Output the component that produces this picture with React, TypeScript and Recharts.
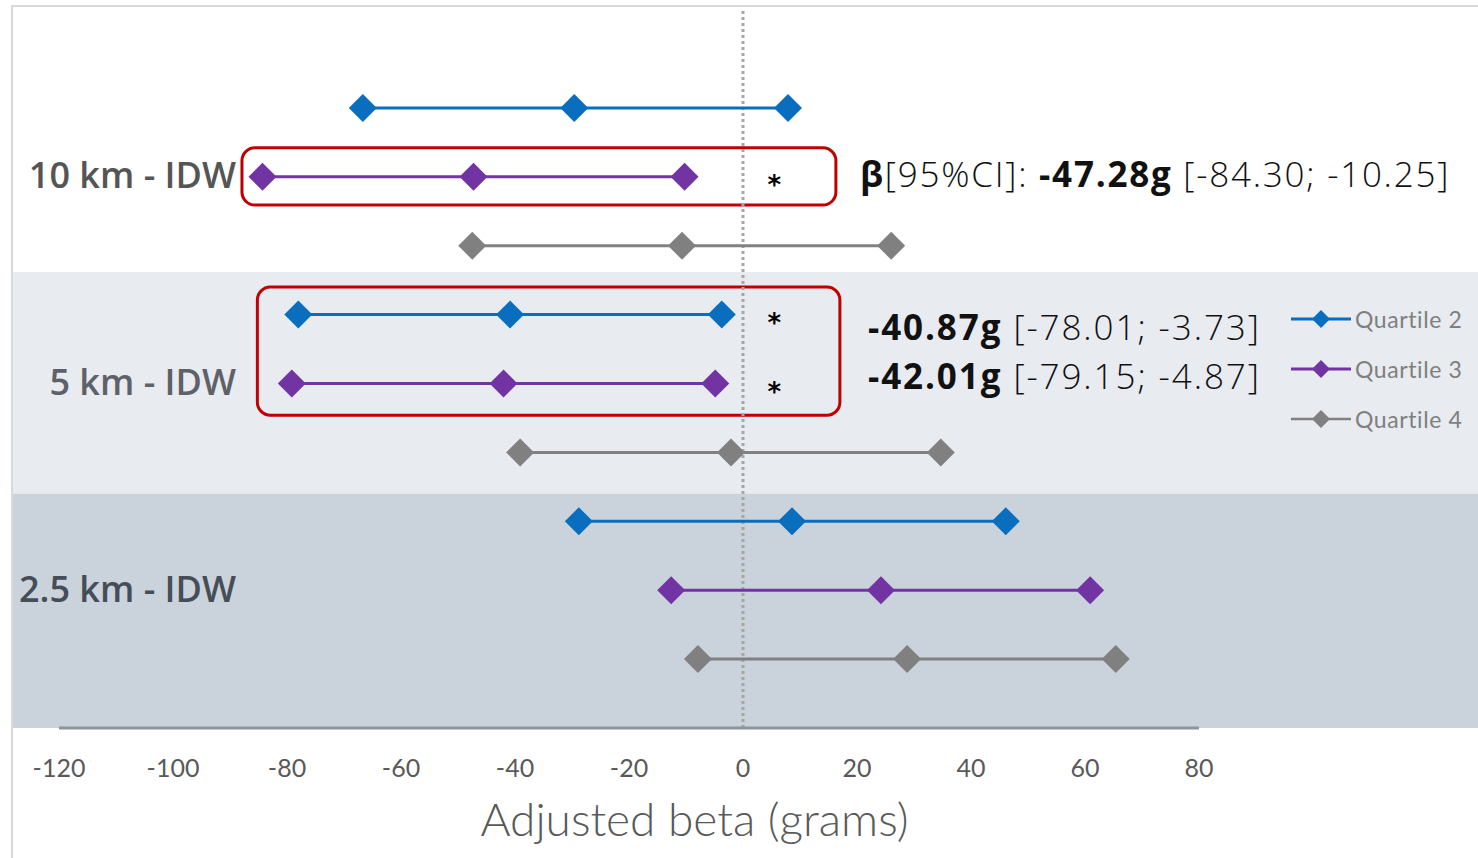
import React from "react";
import {
  ScatterChart,
  Scatter,
  XAxis,
  YAxis,
  ReferenceArea,
  ReferenceLine,
  ReferenceDot,
} from "recharts";

// Exposure buffers, top to bottom
const distances = ["10 km - IDW", "5 km - IDW", "2.5 km - IDW"];
const distanceColors = ["#555555", "#5E6268", "#454D57"];
const quartiles = ["Quartile 2", "Quartile 3", "Quartile 4"];
const quartileColors = ["#0A6EBF", "#7334A3", "#808080"];

// Adjusted beta (grams) and 95% CI, one value per buffer (10 km, 5 km, 2.5 km)
const q2Est = [-29.6, -40.87, 8.6];
const q2Lo = [-66.7, -78.01, -28.8];
const q2Hi = [7.9, -3.73, 46.1];

const q3Est = [-47.28, -42.01, 24.2];
const q3Lo = [-84.3, -79.15, -12.6];
const q3Hi = [-10.25, -4.87, 60.9];

const q4Est = [-10.7, -2.1, 28.8];
const q4Lo = [-47.5, -39.1, -7.9];
const q4Hi = [26.0, 34.7, 65.4];

const xTicks = [-120, -100, -80, -60, -40, -20, 0, 20, 40, 60, 80];

const estimates = [q2Est, q3Est, q4Est];
const lowers = [q2Lo, q3Lo, q4Lo];
const uppers = [q2Hi, q3Hi, q4Hi];

// vertical slot of each (buffer, quartile) line: 9 at the top down to 1
const slot = (d: number, q: number) => 9 - (d * 3 + q);

type Row = { d: number; q: number; y: number; lo: number; est: number; hi: number };
const rows: Row[] = [];
distances.forEach((_, d) =>
  quartiles.forEach((__, q) =>
    rows.push({
      d,
      q,
      y: slot(d, q),
      lo: lowers[q][d],
      est: estimates[q][d],
      hi: uppers[q][d],
    })
  )
);

const isSignificant = (r: Row) => r.hi < 0 || r.lo > 0;

const X_DOMAIN: [number, number] = [-128.07, 128.95];
const Y_DOMAIN: [number, number] = [0, 10.45];
const STAR_X = 5.5;

const Diamond = (props: any) => {
  const { cx, cy, fill } = props;
  const h = 14;
  return (
    <path
      d={`M${cx},${cy - h} L${cx + h},${cy} L${cx},${cy + h} L${cx - h},${cy} Z`}
      fill={fill}
    />
  );
};

const RoundedBox = (props: any) => {
  const { x, y, width, height } = props;
  return (
    <rect
      x={x}
      y={y}
      width={width}
      height={height}
      rx={13}
      ry={13}
      fill="none"
      stroke="#C00000"
      strokeWidth={3}
    />
  );
};

// buffer name drawn to the left of its middle (Quartile 3) line
const categoryLabel = (d: number) => (p: any) => {
  const vb = p.viewBox;
  return (
    <text
      x={vb.x + 223}
      y={vb.y + vb.height / 2 - 2}
      textAnchor="end"
      dominantBaseline="central"
      fill={distanceColors[d]}
      fontFamily="'Open Sans', sans-serif"
      fontWeight={600}
      fontSize={36}
    >
      {distances[d]}
    </text>
  );
};

const fmt = (v: number) => v.toFixed(2);

const annLight: React.CSSProperties = { fontWeight: 300 };
const annBold: React.CSSProperties = { fontWeight: 700 };

export default function App() {
  const r10q3 = rows.find((r) => r.d === 0 && r.q === 1)!;
  const r5q2 = rows.find((r) => r.d === 1 && r.q === 0)!;
  const r5q3 = rows.find((r) => r.d === 1 && r.q === 1)!;

  return (
    <div
      style={{
        position: "absolute",
        left: 0,
        top: 0,
        width: 1478,
        height: 858,
        background: "#ffffff",
        overflow: "hidden",
      }}
    >
      <ScatterChart
        width={1478}
        height={858}
        margin={{ top: 8, right: 0, bottom: 30, left: 13 }}
      >
        <ReferenceArea
          x1={X_DOMAIN[0]}
          x2={X_DOMAIN[1]}
          y1={3.4}
          y2={6.62}
          fill="#E8EBF0"
          fillOpacity={1}
          stroke="none"
        />
        <ReferenceArea
          x1={X_DOMAIN[0]}
          x2={X_DOMAIN[1]}
          y1={0}
          y2={3.4}
          fill="#CAD2DC"
          fillOpacity={1}
          stroke="none"
        />
        <XAxis
          type="number"
          dataKey="x"
          domain={X_DOMAIN}
          ticks={xTicks}
          allowDataOverflow
          axisLine={false}
          tickLine={false}
          height={100}
          tickMargin={25}
          tick={{ fill: "#595959", fontSize: 25, fontFamily: "Lato, sans-serif" }}
          label={{
            content: (p: any) => {
              const vb = p.viewBox;
              return (
                <text
                  x={vb.x + vb.width / 2 - 51}
                  y={836}
                  textAnchor="middle"
                  fill="#595959"
                  fontFamily="Lato, sans-serif"
                  fontWeight={300}
                  fontSize={46}
                >
                  Adjusted beta (grams)
                </text>
              );
            },
          }}
        />
        <YAxis type="number" dataKey="y" domain={Y_DOMAIN} hide />
        <ReferenceLine
          x={0}
          stroke="#A6A6A6"
          strokeWidth={3}
          strokeDasharray="3 3"
        />
        <ReferenceLine
          segment={[
            { x: xTicks[0], y: 0 },
            { x: xTicks[xTicks.length - 1], y: 0 },
          ]}
          stroke="#8E949C"
          strokeWidth={3}
        />
        {distances.map((name, d) => (
          <ReferenceDot
            key={`cat-${name}`}
            x={X_DOMAIN[0]}
            y={slot(d, 1)}
            r={0}
            stroke="none"
            fill="none"
            label={{ content: categoryLabel(d) }}
          />
        ))}
        {rows.map((r) => (
          <Scatter
            key={`${r.d}-${r.q}`}
            name={quartiles[r.q]}
            data={[
              { x: r.lo, y: r.y },
              { x: r.est, y: r.y },
              { x: r.hi, y: r.y },
            ]}
            fill={quartileColors[r.q]}
            line={{ stroke: quartileColors[r.q], strokeWidth: 3 }}
            shape={<Diamond />}
            isAnimationActive={false}
          />
        ))}
        {rows.filter(isSignificant).map((r) => (
          <ReferenceDot
            key={`star-${r.d}-${r.q}`}
            x={STAR_X}
            y={r.y}
            r={0}
            stroke="none"
            label={{
              value: "*",
              position: "center",
              fill: "#000",
              fontSize: 26,
              fontWeight: 700,
              fontFamily: "'DejaVu Sans', sans-serif",
              dy: 8,
            }}
          />
        ))}
        <ReferenceArea
          x1={-87.9}
          x2={16.3}
          y1={r10q3.y - 0.41}
          y2={r10q3.y + 0.42}
          shape={<RoundedBox />}
        />
        <ReferenceArea
          x1={-85.2}
          x2={17.0}
          y1={r5q3.y - 0.46}
          y2={r5q2.y + 0.4}
          shape={<RoundedBox />}
        />
      </ScatterChart>

      {/* chart frame */}
      <div
        style={{
          position: "absolute",
          left: 11,
          top: 5,
          width: 1480,
          height: 870,
          borderLeft: "2px solid #D9D9D9",
          borderTop: "2px solid #D9D9D9",
          pointerEvents: "none",
        }}
      />

      {/* estimate annotations */}
      <div
        style={{
          position: "absolute",
          left: 860,
          top: 152,
          fontFamily: "'Open Sans', sans-serif",
          fontSize: 35,
          letterSpacing: 1.75,
          lineHeight: "44px",
          color: "#111",
          whiteSpace: "nowrap",
        }}
      >
        <span style={annBold}>β</span>
        <span style={annLight}>[95%CI]: </span>
        <span style={annBold}>{fmt(r10q3.est)}g</span>
        <span style={annLight}> [{fmt(r10q3.lo)}; {fmt(r10q3.hi)}]</span>
      </div>
      <div
        style={{
          position: "absolute",
          left: 868,
          top: 302,
          fontFamily: "'Open Sans', sans-serif",
          fontSize: 35,
          letterSpacing: 1.9,
          lineHeight: "49px",
          color: "#111",
          whiteSpace: "nowrap",
        }}
      >
        <div>
          <span style={annBold}>{fmt(r5q2.est)}g</span>
          <span style={annLight}> [{fmt(r5q2.lo)}; {fmt(r5q2.hi)}]</span>
        </div>
        <div>
          <span style={annBold}>{fmt(r5q3.est)}g</span>
          <span style={annLight}> [{fmt(r5q3.lo)}; {fmt(r5q3.hi)}]</span>
        </div>
      </div>

      {/* legend */}
      <div style={{ position: "absolute", left: 1290, top: 294 }}>
        {quartiles.map((name, q) => (
          <div
            key={name}
            style={{ display: "flex", alignItems: "center", height: 50 }}
          >
            <svg width={64} height={24}>
              <line
                x1={1}
                y1={12}
                x2={61}
                y2={12}
                stroke={quartileColors[q]}
                strokeWidth={q === 2 ? 2.5 : 3}
              />
              <path d="M31,3 L40,12 L31,21 L22,12 Z" fill={quartileColors[q]} />
            </svg>
            <span
              style={{
                fontFamily: "Lato, sans-serif",
                fontSize: 23,
                letterSpacing: 0.6,
                color: "#7F7F7F",
                marginLeft: 1,
              }}
            >
              {name}
            </span>
          </div>
        ))}
      </div>
    </div>
  );
}
